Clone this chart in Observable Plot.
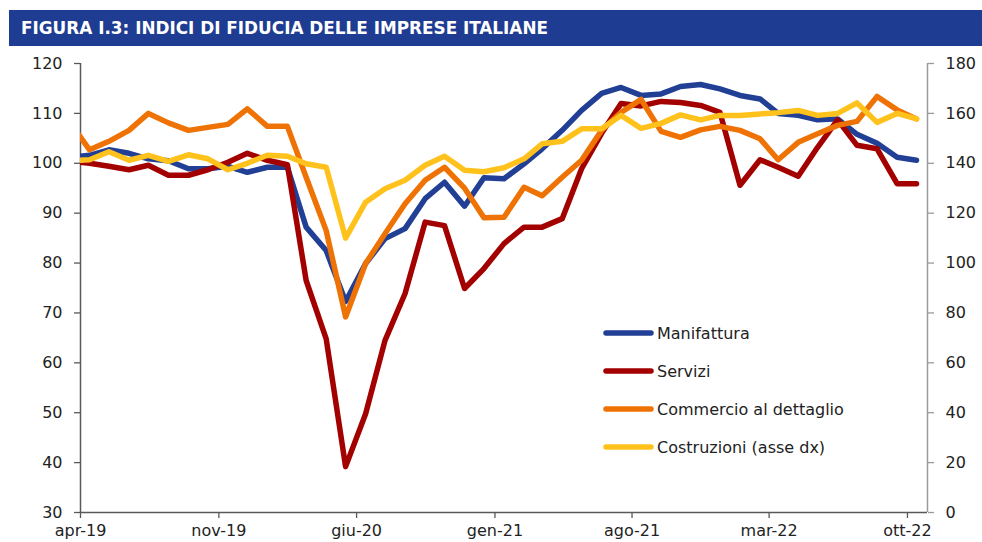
<!DOCTYPE html>
<html>
<head>
<meta charset="utf-8">
<script src="https://cdn.jsdelivr.net/npm/d3@7"></script>
<script src="https://cdn.jsdelivr.net/npm/@observablehq/plot@0.6"></script>
<style>
  html, body { margin: 0; padding: 0; background: #fff; }
  #wrap { position: relative; width: 982px; height: 542px; overflow: hidden; }
  #title { position: absolute; left: 0; top: 0; }
  #chart { position: absolute; left: 0; top: 46px; }
  #legend { position: absolute; left: 0; top: 0; pointer-events: none; }
</style>
</head>
<body>
<div id="wrap">
  <svg id="title" width="982" height="46"></svg>
  <div id="chart"></div>
  <svg id="legend" width="982" height="542"></svg>
</div>
<script>
// ---- Data ----
const itMonths = ["gen","feb","mar","apr","mag","giu","lug","ago","set","ott","nov","dic"];

const months = [
  "mar-19","apr-19","mag-19","giu-19","lug-19","ago-19","set-19","ott-19","nov-19","dic-19",
  "gen-20","feb-20","mar-20","apr-20","mag-20","giu-20","lug-20","ago-20","set-20","ott-20","nov-20","dic-20",
  "gen-21","feb-21","mar-21","apr-21","mag-21","giu-21","lug-21","ago-21","set-21","ott-21","nov-21","dic-21",
  "gen-22","feb-22","mar-22","apr-22","mag-22","giu-22","lug-22","ago-22","set-22","ott-22"
];

const manifattura = [101.2, 101.6, 102.7, 102.0, 100.9, 100.5, 98.9, 98.9, 99.4, 98.2,
  99.2, 99.2, 87.2, 82.5, 72.3, 79.9, 84.9, 86.9, 92.9, 96.2, 91.4, 97.1,
  96.9, 99.9, 102.9, 106.6, 110.6, 114.0, 115.2, 113.6, 113.9, 115.4, 115.8, 114.9,
  113.6, 112.9, 110.0, 109.6, 108.7, 108.9, 105.8, 104.0, 101.2, 100.6];

const servizi = [100.4, 100.0, 99.4, 98.7, 99.6, 97.6, 97.6, 98.7, 100.2, 102.0,
  100.6, 99.7, 76.5, 64.8, 39.2, 49.8, 64.5, 73.9, 88.2, 87.5, 74.9, 78.9,
  83.9, 87.2, 87.2, 88.9, 98.9, 106.0, 112.0, 111.5, 112.4, 112.2, 111.6, 110.2,
  95.6, 100.7, 99.2, 97.4, 103.2, 108.7, 103.6, 102.9, 95.9, 95.9];

const commercio = [108.3, 102.7, 104.4, 106.6, 110.0, 108.1, 106.6, 107.2, 107.8, 110.9,
  107.4, 107.4, 97.2, 86.5, 69.2, 79.9, 85.9, 91.9, 96.6, 99.2, 95.0, 89.1,
  89.2, 95.2, 93.5, 97.2, 100.6, 106.6, 110.2, 112.8, 106.4, 105.2, 106.7, 107.4,
  106.6, 104.9, 100.7, 104.2, 105.9, 107.6, 108.4, 113.4, 110.7, 108.9];

// right axis (asse dx)
const costruzioni = [141.0, 141.4, 144.6, 141.2, 143.2, 140.8, 143.4, 141.8, 137.4, 140.0,
  143.2, 142.8, 139.8, 138.4, 110.0, 124.4, 129.8, 133.2, 139.2, 142.8, 137.2, 136.6,
  138.2, 141.8, 147.8, 148.8, 153.8, 153.8, 159.2, 154.0, 156.0, 159.4, 157.4, 159.2,
  159.2, 159.8, 160.3, 161.2, 159.2, 160.0, 164.2, 156.4, 160.0, 157.8];

const seriesNames = ["Manifattura", "Servizi", "Commercio al dettaglio", "Costruzioni (asse dx)"];
const seriesColors = ["#213f95", "#a30000", "#ef7304", "#ffc21c"];

const xTickLabels = ["apr-19","nov-19","giu-20","gen-21","ago-21","mar-22","ott-22"];
const yLeftTicks = [30, 40, 50, 60, 70, 80, 90, 100, 110, 120];
const yRightTicks = [0, 20, 40, 60, 80, 100, 120, 140, 160, 180];
const xDomainLabels = ["apr-19", "nov-22"];

const titleText = "FIGURA I.3: INDICI DI FIDUCIA DELLE IMPRESE ITALIANE";

// ---- helpers ----
function parseMonth(s, day) {
  const [m, y] = s.split("-");
  return new Date(Date.UTC(2000 + +y, itMonths.indexOf(m), day));
}
const fmtMonth = d => itMonths[d.getUTCMonth()] + "-" + String(d.getUTCFullYear()).slice(2);
// right axis maps 0..180 onto left 30..120
const toLeft = v => v / 2 + 30;
const toRight = v => (v - 30) * 2;

const data = months.map((m, i) => ({
  date: parseMonth(m, 15),
  manifattura: manifattura[i],
  servizi: servizi[i],
  commercio: commercio[i],
  costruzioni: costruzioni[i]
}));

const lineOpts = (key, color, yfn) => ({
  x: "date",
  y: yfn || key,
  stroke: color,
  strokeWidth: 5.5,
  strokeLinejoin: "round",
  strokeLinecap: "round",
  clip: true
});

const xDomain = xDomainLabels.map(s => parseMonth(s, 1));

const chart = Plot.plot({
  width: 982,
  height: 496,
  marginTop: 17,
  marginBottom: 30,
  marginLeft: 80,
  marginRight: 55,
  style: { fontFamily: "'DejaVu Sans', sans-serif", fontSize: "16px", color: "#222", background: "transparent" },
  x: { type: "utc", domain: xDomain },
  y: { domain: [30, 120] },
  marks: [
    Plot.axisY({ ticks: yLeftTicks, anchor: "left", tickSize: 6, tickPadding: 12, label: null,
      stroke: "#595959", fill: "#222", strokeWidth: 1.3 }),
    Plot.axisY({ ticks: yRightTicks.map(toLeft), anchor: "right", tickFormat: d => String(toRight(d)),
      tickSize: 6, tickPadding: 12, label: null, stroke: "#9a9a9a", fill: "#222", strokeWidth: 1.3 }),
    Plot.axisX({ ticks: xTickLabels.map(s => parseMonth(s, 1)), tickFormat: fmtMonth,
      tickSize: 6, tickPadding: 6, label: null, stroke: "#595959", fill: "#222", strokeWidth: 1.3 }),
    Plot.ruleX([xDomain[0]], { stroke: "#595959", strokeWidth: 1.5 }),
    Plot.ruleX([xDomain[1]], { stroke: "#9a9a9a", strokeWidth: 1.5 }),
    Plot.ruleY([30], { stroke: "#595959", strokeWidth: 1.5 }),
    Plot.lineY(data, lineOpts("manifattura", seriesColors[0])),
    Plot.lineY(data, lineOpts("servizi", seriesColors[1])),
    Plot.lineY(data, lineOpts("commercio", seriesColors[2])),
    Plot.lineY(data, lineOpts("costruzioni", seriesColors[3], d => toLeft(d.costruzioni)))
  ]
});
document.getElementById("chart").appendChild(chart);

// ---- title bar ----
const ns = "http://www.w3.org/2000/svg";
const tsvg = document.getElementById("title");
const bar = document.createElementNS(ns, "rect");
bar.setAttribute("x", 9); bar.setAttribute("y", 10);
bar.setAttribute("width", 973); bar.setAttribute("height", 36);
bar.setAttribute("fill", "#1f3c93");
tsvg.appendChild(bar);
const tt = document.createElementNS(ns, "text");
tt.setAttribute("x", 21); tt.setAttribute("y", 34);
tt.setAttribute("fill", "#fff");
tt.setAttribute("font-family", "'DejaVu Sans Condensed', 'DejaVu Sans', sans-serif");
tt.setAttribute("font-stretch", "condensed");
tt.setAttribute("font-weight", "bold");
tt.setAttribute("font-size", "18");
tt.setAttribute("textLength", "527");
tt.setAttribute("lengthAdjust", "spacingAndGlyphs");
tt.textContent = titleText;
tsvg.appendChild(tt);

// ---- legend ----
const lsvg = document.getElementById("legend");
seriesNames.forEach((name, i) => {
  const y = 333 + i * 38;
  const ln = document.createElementNS(ns, "line");
  ln.setAttribute("x1", 606); ln.setAttribute("x2", 651);
  ln.setAttribute("y1", y); ln.setAttribute("y2", y);
  ln.setAttribute("stroke", seriesColors[i]);
  ln.setAttribute("stroke-width", 5.5);
  ln.setAttribute("stroke-linecap", "round");
  lsvg.appendChild(ln);
  const tx = document.createElementNS(ns, "text");
  tx.setAttribute("x", 657); tx.setAttribute("y", y);
  tx.setAttribute("dy", "0.36em");
  tx.setAttribute("fill", "#222");
  tx.setAttribute("font-family", "'DejaVu Sans', sans-serif");
  tx.setAttribute("font-size", "16");
  tx.textContent = name;
  lsvg.appendChild(tx);
});
</script>
</body>
</html>
